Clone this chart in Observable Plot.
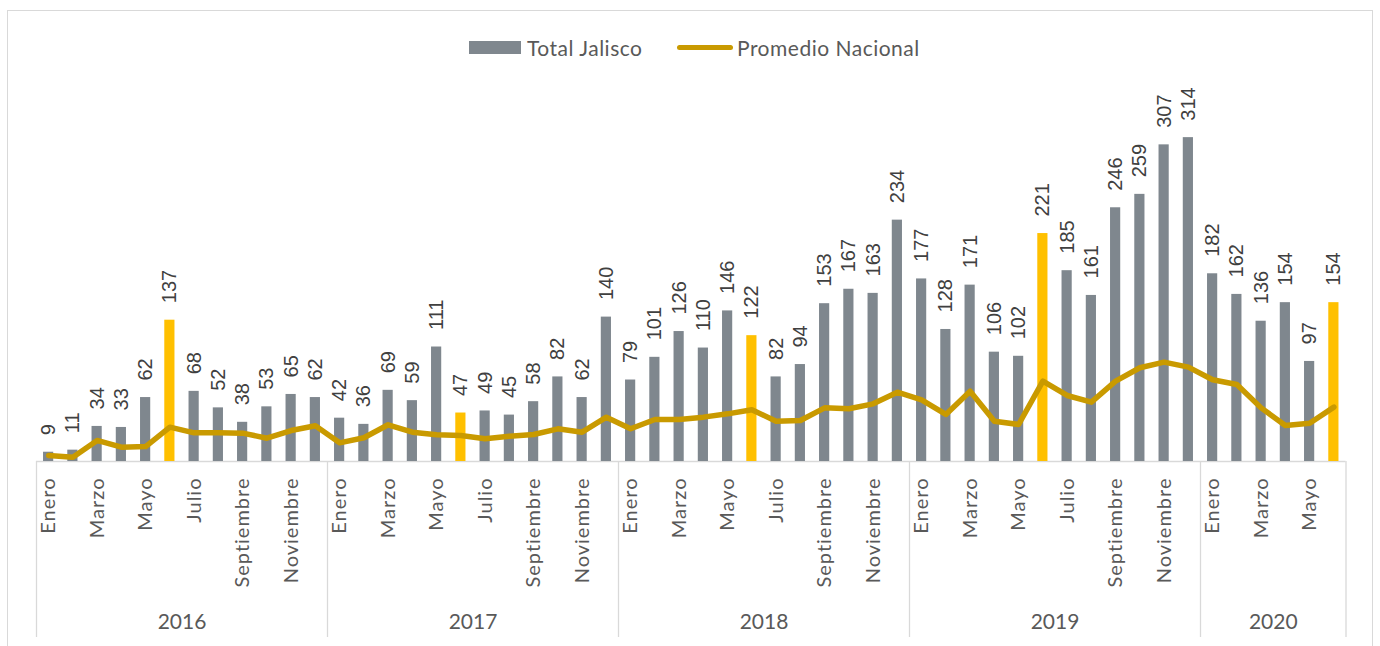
<!DOCTYPE html>
<html>
<head>
<meta charset="utf-8">
<script src="https://cdn.jsdelivr.net/npm/d3@7"></script>
<script src="https://cdn.jsdelivr.net/npm/@observablehq/plot@0.6"></script>
<style>
  html, body { margin: 0; padding: 0; background: #fff; }
  #wrap { position: relative; width: 1380px; height: 646px; overflow: hidden; }
  #frame { position: absolute; left: 7px; top: 10px; width: 1366px; height: 660px; border: 1px solid #d9d9d9; box-sizing: border-box; }
  #chart { position: absolute; left: 0; top: 0; }
  .lg { position: absolute; font-family: Lato, "Open Sans", sans-serif; font-size: 21px; letter-spacing: 0.5px; color: #595959; line-height: 1; white-space: nowrap; }
</style>
</head>
<body>
<div id="wrap">
  <div id="frame"></div>
  <div id="chart"></div>
  <div style="position:absolute;left:469px;top:41px;width:52px;height:13px;background:#7F878E"></div>
  <div class="lg" style="left:527px;top:37px">Total Jalisco</div>
  <div style="position:absolute;left:677px;top:45px;width:56px;height:5px;border-radius:3px;background:#C99A00"></div>
  <div class="lg" style="left:737px;top:37px">Promedio Nacional</div>
</div>
<script>
const years = [2016, 2017, 2018, 2019, 2020];
const monthNames = ["Enero","Febrero","Marzo","Abril","Mayo","Junio","Julio","Agosto","Septiembre","Octubre","Noviembre","Diciembre"];
const monthsPerYear = [12, 12, 12, 12, 6];
const totalJalisco = [
  9, 11, 34, 33, 62, 137, 68, 52, 38, 53, 65, 62,
  42, 36, 69, 59, 111, 47, 49, 45, 58, 82, 62, 140,
  79, 101, 126, 110, 146, 122, 82, 94, 153, 167, 163, 234,
  177, 128, 171, 106, 102, 221, 185, 161, 246, 259, 307, 314,
  182, 162, 136, 154, 97, 154
];
const promedioNacional = [
  5.8, 4.2, 20.4, 13.9, 14.5, 33.3, 27.8, 27.8, 27.5, 22.6, 30.0, 34.6,
  18.1, 23.0, 35.6, 28.4, 25.9, 25.2, 22.0, 24.5, 26.2, 31.7, 28.4, 43.0,
  31.7, 40.7, 40.7, 43.0, 46.2, 50.1, 39.1, 39.8, 52.0, 51.1, 55.9, 67.2,
  59.8, 45.6, 68.2, 39.1, 35.9, 77.9, 64.0, 57.5, 77.9, 90.9, 96.3, 91.5,
  79.2, 74.7, 52.0, 34.9, 37.1, 52.7
];
const shownMonths = ["Enero","Marzo","Mayo","Julio","Septiembre","Noviembre"];
const highlightMonth = "Junio";

const colors = { bar: "#7F878E", highlight: "#FFC000", line: "#C99A00", grid: "#d9d9d9", text: "#595959", label: "#404040" };

// Build table
const data = [];
let idx = 0;
years.forEach((yr, yi) => {
  for (let m = 0; m < monthsPerYear[yi]; m++) {
    data.push({ i: idx, year: yr, month: monthNames[m], v: totalJalisco[idx], p: promedioNacional[idx] });
    idx++;
  }
});
const n = data.length;
const monthTicks = data.filter(d => shownMonths.includes(d.month));
const yearGroups = years.map(yr => {
  const rows = data.filter(d => d.year === yr);
  return { year: yr, first: rows[0].i, last: rows[rows.length - 1].i, mid: (rows[0].i + rows[rows.length - 1].i) / 2 };
});
const separators = [yearGroups[0].first - 0.5, ...yearGroups.map(g => g.last + 0.5)];
const half = 0.21;

const chart = Plot.plot({
  width: 1380,
  height: 646,
  marginLeft: 36,
  marginRight: 34.5,
  marginTop: 100,
  marginBottom: 185,
  style: { background: "transparent", overflow: "visible" },
  x: { domain: [-0.5, n - 0.5], axis: null },
  y: { domain: [0, 350], axis: null },
  marks: [
    Plot.ruleX(separators, { stroke: colors.grid, strokeWidth: 1.3, insetTop: 361, insetBottom: -176 }),
    Plot.ruleY([0], { stroke: colors.grid, strokeWidth: 1.5 }),
    Plot.rectY(data, {
      x1: d => d.i - half, x2: d => d.i + half, y: "v",
      fill: d => d.month === highlightMonth ? colors.highlight : colors.bar
    }),
    Plot.line(data, { x: "i", y: "p", stroke: colors.line, strokeWidth: 5.5, strokeLinejoin: "round", strokeLinecap: "round" }),
    Plot.text(data, {
      x: "i", y: "v", text: d => String(d.v), rotate: -90, textAnchor: "start", lineAnchor: "middle",
      dy: -17, fontSize: 20, fontFamily: "'Liberation Sans', Arial, sans-serif", fill: colors.label
    }),
    Plot.text(monthTicks, {
      x: "i", y: () => 0, text: "month", rotate: -90, textAnchor: "end", lineAnchor: "middle",
      dy: 16, fontSize: 20, fontFamily: "Lato, 'Open Sans', sans-serif", fill: colors.text
    }),
    Plot.text(yearGroups, {
      x: "mid", y: () => 0, text: d => String(d.year), dy: 161, fontSize: 21,
      fontFamily: "Lato, 'Open Sans', sans-serif", fill: colors.text
    })
  ]
});
d3.select(chart).selectAll("text")
  .filter(function () { return shownMonths.includes(this.textContent); })
  .attr("letter-spacing", "1px");
document.getElementById("chart").appendChild(chart);
</script>
</body>
</html>
